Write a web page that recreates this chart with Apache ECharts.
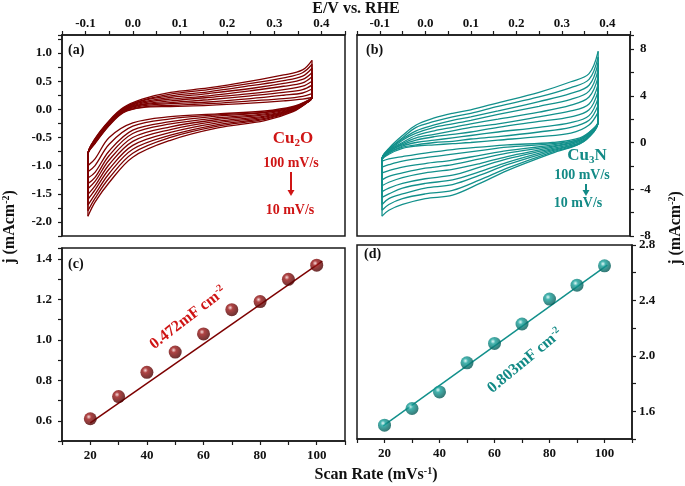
<!DOCTYPE html>
<html><head><meta charset="utf-8">
<script src="https://cdn.jsdelivr.net/npm/echarts@6/dist/echarts.min.js"></script>
<style>html,body{margin:0;padding:0;background:#fff}#c{width:685px;height:486px}</style>
</head><body><div id="c"></div>
<script>
// ---------- data ----------
const RATES = [100, 90, 80, 70, 60, 50, 40, 30, 20, 10];

// Panel (a) Cu2O CV loops: anodic (upper) and cathodic (lower) branches
const E_UP_A = [-0.095, -0.08, -0.05, -0.02, 0.02, 0.08, 0.16, 0.25, 0.32, 0.36, 0.38];
const CU2O_UP = [
  [-0.80, -0.52, -0.20,  0.03, 0.18, 0.30, 0.38, 0.50, 0.61, 0.70, 0.87],
  [-0.80, -0.53, -0.21,  0.02, 0.16, 0.27, 0.35, 0.46, 0.56, 0.65, 0.80],
  [-0.80, -0.54, -0.22,  0.01, 0.15, 0.24, 0.31, 0.42, 0.51, 0.59, 0.73],
  [-0.80, -0.55, -0.23,  0.00, 0.13, 0.21, 0.28, 0.37, 0.46, 0.53, 0.65],
  [-0.80, -0.56, -0.24, -0.01, 0.11, 0.18, 0.24, 0.33, 0.41, 0.47, 0.58],
  [-0.80, -0.57, -0.25, -0.02, 0.09, 0.15, 0.21, 0.28, 0.35, 0.41, 0.50],
  [-0.80, -0.58, -0.26, -0.03, 0.08, 0.12, 0.17, 0.24, 0.30, 0.35, 0.43],
  [-0.80, -0.59, -0.27, -0.04, 0.06, 0.10, 0.13, 0.19, 0.25, 0.29, 0.36],
  [-0.80, -0.60, -0.28, -0.05, 0.04, 0.07, 0.10, 0.15, 0.19, 0.23, 0.28],
  [-0.80, -0.61, -0.29, -0.06, 0.03, 0.05, 0.07, 0.11, 0.15, 0.18, 0.21]
];
const E_DN_A = [0.38, 0.37, 0.34, 0.28, 0.18, 0.08, 0.0, -0.05, -0.08, -0.095];
const CU2O_DN = [
  [0.21, 0.12, -0.04, -0.20, -0.33, -0.55, -0.85, -1.30, -1.65, -1.90],
  [0.21, 0.12, -0.03, -0.18, -0.30, -0.50, -0.78, -1.22, -1.58, -1.80],
  [0.21, 0.13, -0.02, -0.16, -0.27, -0.46, -0.71, -1.14, -1.51, -1.70],
  [0.21, 0.13, -0.01, -0.14, -0.24, -0.41, -0.64, -1.06, -1.43, -1.60],
  [0.21, 0.13,  0.00, -0.12, -0.21, -0.36, -0.57, -0.98, -1.36, -1.51],
  [0.21, 0.14,  0.01, -0.10, -0.18, -0.31, -0.50, -0.90, -1.28, -1.41],
  [0.21, 0.14,  0.02, -0.08, -0.15, -0.26, -0.43, -0.82, -1.21, -1.32],
  [0.21, 0.14,  0.03, -0.06, -0.12, -0.22, -0.37, -0.74, -1.12, -1.22],
  [0.21, 0.15,  0.04, -0.05, -0.10, -0.17, -0.30, -0.62, -1.00, -1.11],
  [0.21, 0.15,  0.05, -0.03, -0.08, -0.13, -0.24, -0.50, -0.88, -1.00]
];

// Panel (b) Cu3N CV loops
const E_UP_B = [-0.095, -0.08, -0.05, -0.02, 0.02, 0.06, 0.10, 0.16, 0.25, 0.32, 0.36, 0.38];
const CU3N_UP = [
  [-1.4, -0.5,  0.6,  1.5,  2.1,  2.5, 2.8, 3.4, 4.3, 5.2, 5.9, 7.8],
  [-1.4, -0.6,  0.4,  1.3,  1.8,  2.2, 2.5, 3.1, 3.9, 4.7, 5.4, 7.3],
  [-1.4, -0.6,  0.3,  1.0,  1.5,  1.9, 2.2, 2.7, 3.5, 4.2, 4.9, 6.8],
  [-1.4, -0.7,  0.2,  0.8,  1.3,  1.6, 1.9, 2.4, 3.1, 3.7, 4.4, 6.2],
  [-1.4, -0.7,  0.0,  0.6,  1.0,  1.3, 1.6, 2.0, 2.6, 3.2, 3.9, 5.6],
  [-1.4, -0.8, -0.1,  0.4,  0.7,  1.0, 1.3, 1.6, 2.2, 2.7, 3.3, 5.0],
  [-1.5, -0.8, -0.2,  0.2,  0.5,  0.7, 0.9, 1.3, 1.8, 2.2, 2.8, 4.4],
  [-1.5, -0.9, -0.3,  0.0,  0.2,  0.4, 0.6, 0.9, 1.3, 1.7, 2.3, 3.8],
  [-1.5, -0.9, -0.4, -0.2,  0.0,  0.1, 0.3, 0.5, 0.9, 1.3, 1.9, 3.2],
  [-1.5, -1.0, -0.5, -0.3, -0.2, -0.1, 0.0, 0.2, 0.5, 0.8, 1.5, 2.6]
];
const E_DN_B = [0.38, 0.37, 0.34, 0.28, 0.18, 0.12, 0.06, 0.0, -0.05, -0.08, -0.095];
const CU3N_DN = [
  [1.8, 0.9, -0.1, -0.9, -2.4, -3.5, -4.5, -4.8, -5.3, -5.8, -6.3],
  [1.8, 0.9, -0.1, -0.8, -2.2, -3.2, -4.1, -4.4, -4.8, -5.3, -5.8],
  [1.8, 1.0,  0.0, -0.7, -1.9, -2.8, -3.6, -3.9, -4.4, -4.8, -5.3],
  [1.8, 1.0,  0.0, -0.6, -1.7, -2.5, -3.2, -3.5, -3.9, -4.4, -4.7],
  [1.8, 1.0,  0.1, -0.5, -1.4, -2.1, -2.8, -3.1, -3.5, -3.9, -4.2],
  [1.8, 1.1,  0.2, -0.4, -1.2, -1.8, -2.3, -2.6, -3.0, -3.4, -3.7],
  [1.8, 1.1,  0.2, -0.3, -0.9, -1.4, -1.9, -2.2, -2.6, -2.9, -3.2],
  [1.8, 1.1,  0.3, -0.2, -0.7, -1.1, -1.5, -1.8, -2.1, -2.4, -2.6],
  [1.8, 1.2,  0.3, -0.1, -0.4, -0.7, -1.0, -1.3, -1.6, -1.9, -2.1],
  [1.8, 1.2,  0.4,  0.0, -0.2, -0.4, -0.6, -0.9, -1.2, -1.4, -1.6]
];

// Panels (c),(d): current vs scan rate
const SCAN = [20, 30, 40, 50, 60, 70, 80, 90, 100];
const J_CU2O = [0.61, 0.72, 0.84, 0.94, 1.03, 1.15, 1.19, 1.30, 1.37];
const J_CU3N = [1.50, 1.62, 1.74, 1.95, 2.09, 2.23, 2.41, 2.51, 2.65];
const FIT_C_X = [20, 102], FIT_C_Y = [0.59, 1.39];
const FIT_D_X = [19.5, 101], FIT_D_Y = [1.495, 2.655];

// tick labels
const TOP_TICKS = ['-0.1', '0.0', '0.1', '0.2', '0.3', '0.4'];

// ---------- styling ----------
const RED = '#7d0000', RED_TXT = '#cf1515', TEAL = '#12908b', TEAL_TXT = '#138a86';
const FONT = '"Liberation Serif", "Times New Roman", serif';
const AX = '#1a1a1a';

function axisBase(extra) {
  return Object.assign({
    type: 'value', scale: true,
    axisLine: { show: true, onZero: false, lineStyle: { color: AX, width: 1.5 } },
    axisTick: { show: true, inside: false, length: 4, lineStyle: { color: AX, width: 1.2 } },
    splitLine: { show: false }
  }, extra);
}
function lbl(fmt, margin) {
  return { color: '#111', fontFamily: FONT, fontWeight: 'bold', fontSize: 13, margin: margin, formatter: fmt, showMinLabel: true, showMaxLabel: true };
}
const fmtTop = v => { const r = Math.round(v * 100); if (r % 10 !== 0) return ''; const t = TOP_TICKS.indexOf((r / 100).toFixed(1)); return t >= 0 ? TOP_TICKS[t] : ''; };
const fmtA = v => { const r = Math.round(v * 100); return (r % 50 === 0 && Math.abs(v * 100 - r) < 1e-6) ? (r / 100).toFixed(1) : ''; };
const fmtB = v => { const r = Math.round(v); return (Math.abs(v - r) < 1e-6 && r % 4 === 0) ? String(r) : ''; };
const fmtScan = v => (v % 20 === 0 && v >= 20 && v <= 100) ? String(v) : '';
const fmtC = v => { const r = Math.round(v * 10); return (Math.abs(v * 10 - r) < 1e-6 && r % 2 === 0 && r >= 6) ? (r / 10).toFixed(1) : ''; };
const fmtD = v => { const r = Math.round(v * 10); return (Math.abs(v * 10 - r) < 1e-6 && r % 4 === 0 && r >= 16) ? (r / 10).toFixed(1) : ''; };

const grids = [
  { left: 62, top: 35, width: 283, height: 201 },
  { left: 357, top: 35, width: 273, height: 201 },
  { left: 62, top: 248, width: 283, height: 193 },
  { left: 357, top: 245, width: 275, height: 194 }
].map(g => Object.assign(g, { show: true, borderColor: AX, borderWidth: 1.5, backgroundColor: 'transparent' }));

const xAxis = [
  axisBase({ gridIndex: 0, position: 'top', min: -0.15, max: 0.45, interval: 0.05, axisLabel: lbl(fmtTop, 5) }),
  axisBase({ gridIndex: 1, position: 'top', min: -0.15, max: 0.45, interval: 0.05, axisLabel: lbl(fmtTop, 5) }),
  axisBase({ gridIndex: 2, position: 'bottom', min: 10, max: 110, interval: 10, axisLabel: lbl(fmtScan, 8) }),
  axisBase({ gridIndex: 3, position: 'bottom', min: 10, max: 110, interval: 10, axisLabel: lbl(fmtScan, 8) })
];
const yAxis = [
  axisBase({ gridIndex: 0, position: 'left', min: -2.25, max: 1.32, interval: 0.25, axisLabel: lbl(fmtA, 10) }),
  axisBase({ gridIndex: 1, position: 'right', min: -8, max: 9.2, interval: 2, axisLabel: lbl(fmtB, 10) }),
  axisBase({ gridIndex: 2, position: 'left', min: 0.5, max: 1.455, interval: 0.1, axisLabel: lbl(fmtC, 10) }),
  axisBase({ gridIndex: 3, position: 'right', min: 1.4, max: 2.8, interval: 0.2, axisLabel: lbl(fmtD, 7) })
];

const series = [];
function addLoops(E_UP, UP, E_DN, DN, idx, color) {
  for (let i = 0; i < RATES.length; i++) {
    const up = [[E_UP[0], DN[i][DN[i].length - 1]]].concat(E_UP.map((e, k) => [e, UP[i][k]]));
    const dn = [[E_DN[0], UP[i][UP[i].length - 1]]].concat(E_DN.map((e, k) => [e, DN[i][k]]));
    [up, dn].forEach(d => series.push({
      type: 'line', xAxisIndex: idx, yAxisIndex: idx, data: d, name: RATES[i] + ' mV/s',
      showSymbol: false, smooth: 0.35, silent: true,
      lineStyle: { color: color, width: 1.3 }
    }));
  }
}
addLoops(E_UP_A, CU2O_UP, E_DN_A, CU2O_DN, 0, RED);
addLoops(E_UP_B, CU3N_UP, E_DN_B, CU3N_DN, 1, TEAL);

function ball(c0, c1, c2) {
  return { type: 'radial', x: 0.38, y: 0.35, r: 0.65, colorStops: [
    { offset: 0, color: c0 }, { offset: 0.3, color: c1 }, { offset: 1, color: c2 }] };
}
series.push({ type: 'line', xAxisIndex: 2, yAxisIndex: 2, data: FIT_C_X.map((x, i) => [x, FIT_C_Y[i]]),
  showSymbol: false, lineStyle: { color: RED, width: 1.5 }, z: 2 });
series.push({ type: 'scatter', xAxisIndex: 2, yAxisIndex: 2, data: SCAN.map((x, i) => [x, J_CU2O[i]]),
  symbolSize: 13, itemStyle: { color: ball('#f4d0d0', '#9a1515', '#4a0000') }, z: 3 });
series.push({ type: 'line', xAxisIndex: 3, yAxisIndex: 3, data: FIT_D_X.map((x, i) => [x, FIT_D_Y[i]]),
  showSymbol: false, lineStyle: { color: TEAL, width: 1.5 }, z: 2 });
series.push({ type: 'scatter', xAxisIndex: 3, yAxisIndex: 3, data: SCAN.map((x, i) => [x, J_CU3N[i]]),
  symbolSize: 13, itemStyle: { color: ball('#d8f6f4', '#16a09a', '#035955') }, z: 3 });

// rich text: segments {n|..}, {sup|..}, {sub|..}
function rtxt(x, y, text, opt) {
  opt = opt || {};
  const size = opt.size || 14, fill = opt.fill || '#111';
  const small = Math.round(size * 0.65);
  return { type: 'text', x: x, y: y, rotation: opt.rot || 0, z: 100,
    style: { text: text, x: 0, y: 0, fill: fill, align: opt.align || 'center', verticalAlign: 'middle',
      fontFamily: FONT, fontWeight: 'bold', fontSize: size,
      rich: {
        n: { fontFamily: FONT, fontWeight: 'bold', fontSize: size, fill: fill, lineHeight: size + 2 },
        sup: { fontFamily: FONT, fontWeight: 'bold', fontSize: small, fill: fill, lineHeight: 8, verticalAlign: 'top' },
        sub: { fontFamily: FONT, fontWeight: 'bold', fontSize: small, fill: fill, lineHeight: 8, verticalAlign: 'bottom' }
      } } };
}
function arrow(x, y0, y1, color) {
  return [
    { type: 'line', z: 100, shape: { x1: x, y1: y0, x2: x, y2: y1 - 5 }, style: { stroke: color, lineWidth: 2 } },
    { type: 'polygon', z: 100, shape: { points: [[x - 3.5, y1 - 6], [x + 3.5, y1 - 6], [x, y1]] }, style: { fill: color } }
  ];
}

const graphic = [
  rtxt(356, 9, '{n|E/V vs. RHE}', { size: 16 }),
  rtxt(376, 475, '{n|Scan Rate (mVs}{sup|-1}{n|)}', { size: 16 }),
  rtxt(10, 227, '{n|j (mAcm}{sup|-2}{n|)}', { size: 16, rot: Math.PI / 2 }),
  rtxt(676, 228, '{n|j (mAcm}{sup|-2}{n|)}', { size: 16, rot: Math.PI / 2 }),
  rtxt(68, 50, '{n|(a)}', { align: 'left', size: 14 }),
  rtxt(366, 50, '{n|(b)}', { align: 'left', size: 14 }),
  rtxt(68, 264, '{n|(c)}', { align: 'left', size: 14 }),
  rtxt(364, 254, '{n|(d)}', { align: 'left', size: 14 }),
  rtxt(293, 139, '{n|Cu}{sub|2}{n|O}', { fill: RED_TXT, size: 17 }),
  rtxt(291, 163, '{n|100 mV/s}', { fill: RED_TXT, size: 14 }),
  rtxt(290, 210, '{n|10 mV/s}', { fill: RED_TXT, size: 14 }),
  rtxt(587, 156, '{n|Cu}{sub|3}{n|N}', { fill: TEAL_TXT, size: 17 }),
  rtxt(582, 175, '{n|100 mV/s}', { fill: TEAL_TXT, size: 14 }),
  rtxt(578, 203, '{n|10 mV/s}', { fill: TEAL_TXT, size: 14 }),
  rtxt(188, 318, '{n|0.472mF cm}{sup|-2}', { fill: RED_TXT, size: 16, rot: 0.66 }),
  rtxt(525, 361, '{n|0.803mF cm}{sup|-2}', { fill: TEAL_TXT, size: 16, rot: 0.69 })
].concat(arrow(291, 172, 196, RED_TXT)).concat(arrow(586, 184, 196, TEAL_TXT));

const chart = echarts.init(document.getElementById('c'), null, { renderer: 'canvas' });
chart.setOption({
  animation: false, backgroundColor: '#fff',
  grid: grids, xAxis: xAxis, yAxis: yAxis, series: series, graphic: graphic
});
</script></body></html>
